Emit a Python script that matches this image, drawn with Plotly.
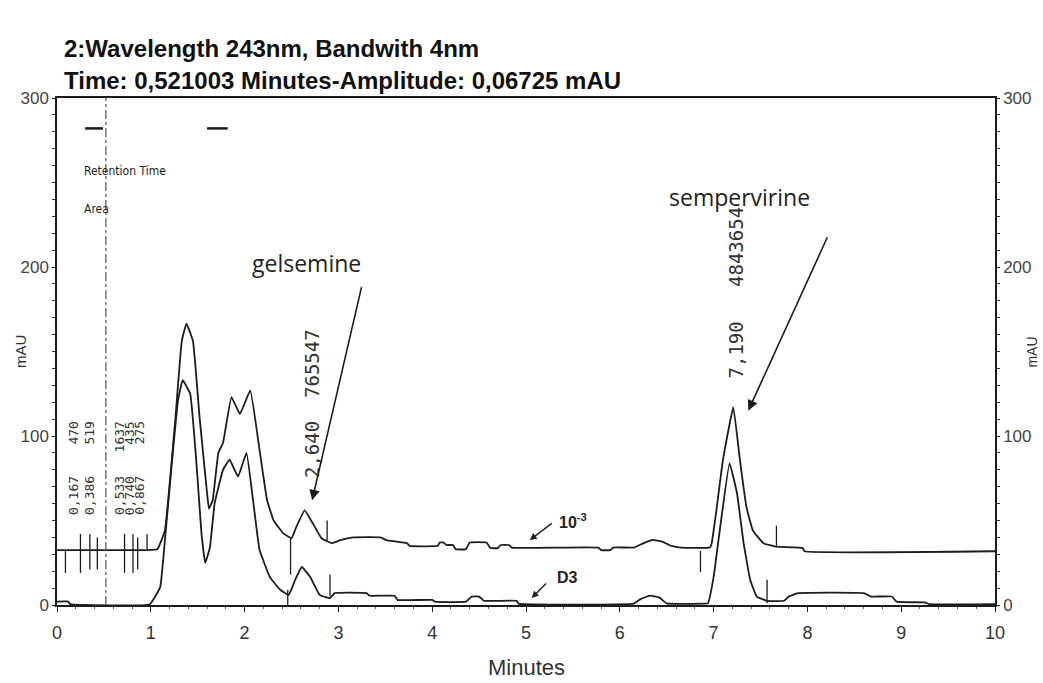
import plotly.graph_objects as go

# ---- data ----
upper_t = [0, 0.95, 1.07, 1.15, 1.26, 1.33, 1.38, 1.45, 1.52, 1.60, 1.62, 1.66, 1.72, 1.77, 1.86, 1.95,
           2.06, 2.16, 2.24, 2.31, 2.41, 2.50, 2.55, 2.64, 2.73, 2.82, 2.93, 3.02, 3.16, 3.45, 3.51, 3.73,
           3.76, 4.06, 4.08, 4.12, 4.15, 4.22, 4.25, 4.36, 4.40, 4.58, 4.62, 4.70, 4.73, 4.82, 4.85, 5.77,
           5.80, 5.90, 5.93, 6.15, 6.25, 6.35, 6.45, 6.55, 6.65, 6.96, 6.98, 7.03, 7.10, 7.21, 7.28, 7.35,
           7.42, 7.53, 7.67, 7.95, 7.97, 10.0]
upper_v = [32.5, 32.5, 33, 44, 109, 156, 166.5, 156, 111, 66, 57, 62, 90, 96, 123, 113,
           127, 91.5, 62, 50, 42.5, 39.5, 46, 56, 48, 39.5, 36.6, 38.4, 40, 40, 38.4, 36.6,
           35, 35, 37, 37, 35.5, 35.5, 33, 33, 37, 37, 33.7, 33.7, 35.5, 35.5, 34, 34,
           32.5, 32.5, 34, 34, 36.5, 38.5, 37.5, 35, 34, 34, 36.6, 56, 86, 117, 86, 58,
           44, 36.6, 34.5, 33.7, 31.8, 31.8]

lower_t = [0, 0.12, 0.14, 0.99, 1.10, 1.15, 1.22, 1.29, 1.34, 1.42, 1.49, 1.54, 1.58, 1.63, 1.68, 1.77,
           1.84, 1.93, 2.02, 2.09, 2.16, 2.27, 2.38, 2.47, 2.54, 2.61, 2.70, 2.80, 2.91, 2.96, 3.30, 3.33,
           3.60, 3.63, 4.00, 4.03, 4.36, 4.42, 4.50, 4.55, 4.90, 4.92, 6.15, 6.22, 6.32, 6.42, 6.50, 6.90,
           6.94, 7.00, 7.07, 7.17, 7.25, 7.32, 7.39, 7.46, 7.57, 7.75, 7.80, 7.90, 8.60, 8.68, 8.90, 8.95,
           9.25, 9.30, 10.0]
lower_v = [2, 2, 0.5, 0.5, 10.6, 38, 81.5, 121, 133, 125, 81.5, 42.5, 25, 34, 60, 80,
           86, 76, 90, 62, 32.5, 16.5, 9, 6, 15, 22.5, 16.5, 6, 4, 7, 7, 5.5,
           5.5, 3, 3, 2, 2, 5, 5, 2.5, 2.5, 0.8, 0.8, 3.5, 5.5, 4.5, 1, 0.8,
           1, 16.5, 46, 84, 66, 36.6, 15, 5, 2.5, 2.5, 5, 7, 7, 5, 5, 2,
           1.5, 0.5, 0.5]

# integration marks (time, low, high)
mark_t = [0.09, 0.25, 0.35, 0.43, 0.72, 0.81, 0.86, 0.96, 2.49, 2.88, 2.46, 2.91, 6.86, 7.67, 7.57]
mark_lo = [19, 19, 21, 21, 19, 19, 21, 33, 18, 38, 0, 5, 19.5, 35, 1]
mark_hi = [32, 42, 42, 40, 42, 42, 40, 42, 39.5, 50, 9, 18, 32, 47, 15]

# retention time labels
rt_text = ["0,167    470", "0,386    519", "0,533   1637", "0,740    435", "0,867    275"]
rt_x = [0.17, 0.34, 0.66, 0.77, 0.87]
rt_y = [81, 81, 81, 81, 81]

peak_text = ["2,640  765547", "7,190   4843654"]
peak_x = [2.72, 7.24]
peak_y = [119, 185]

cursor_time = 0.521
dash_x = [0.30, 0.49, None, 1.60, 1.82]
dash_y = [282, 282, None, 282, 282]

INK = "#1c1c1c"
LINE = dict(color=INK, width=1.8, shape="spline", smoothing=0.3)

fig = go.Figure()
fig.add_trace(go.Scatter(x=upper_t, y=upper_v, mode="lines", line=LINE, showlegend=False, hoverinfo="skip"))
fig.add_trace(go.Scatter(x=lower_t, y=lower_v, mode="lines", line=LINE, showlegend=False, hoverinfo="skip"))

mx, my = [], []
for t, lo, hi in zip(mark_t, mark_lo, mark_hi):
    mx += [t, t, None]
    my += [lo, hi, None]
fig.add_trace(go.Scatter(x=mx, y=my, mode="lines", line=dict(color=INK, width=1.3), showlegend=False, hoverinfo="skip"))

fig.add_trace(go.Scatter(x=[cursor_time, cursor_time], y=[0, 300], mode="lines",
                         line=dict(color="#555", width=1.2, dash="dashdot"), showlegend=False, hoverinfo="skip"))
fig.add_trace(go.Scatter(x=dash_x, y=dash_y, mode="lines", line=dict(color=INK, width=2.5), showlegend=False, hoverinfo="skip"))
# invisible trace for right axis
fig.add_trace(go.Scatter(x=[0], y=[0], yaxis="y2", mode="markers", marker=dict(opacity=0), showlegend=False, hoverinfo="skip"))

ann = []
for t, x, y in zip(rt_text, rt_x, rt_y):
    ann.append(dict(x=x, y=y, xref="x", yref="y", text=t, showarrow=False, textangle=-90,
                    font=dict(family="DejaVu Sans Mono", size=13, color="#333")))
for t, x, y in zip(peak_text, peak_x, peak_y):
    ann.append(dict(x=x, y=y, xref="x", yref="y", text=t, showarrow=False, textangle=-90,
                    font=dict(family="DejaVu Sans Mono", size=19, color="#333")))

NARROW = "DejaVu Sans Condensed, Liberation Sans Narrow, Arial Narrow, Arial"
ann += [
    dict(x=0.27, y=257, xref="x", yref="y", text="Retention Time", showarrow=False, xanchor="left",
         font=dict(family=NARROW, size=12, color="#222")),
    dict(x=0.27, y=234.5, xref="x", yref="y", text="Area", showarrow=False, xanchor="left",
         font=dict(family=NARROW, size=12, color="#222")),
    dict(x=2.66, y=202.6, xref="x", yref="y", text="gelsemine", showarrow=False,
         font=dict(family="Open Sans", size=23, color="#222")),
    dict(x=7.28, y=241.6, xref="x", yref="y", text="sempervirine", showarrow=False,
         font=dict(family="Open Sans", size=23, color="#222")),
    dict(x=2.72, y=62, ax=3.25, ay=189, xref="x", yref="y", axref="x", ayref="y", text="",
         showarrow=True, arrowhead=2, arrowsize=1.3, arrowwidth=1.6, arrowcolor=INK),
    dict(x=7.37, y=115, ax=8.22, ay=218.5, xref="x", yref="y", axref="x", ayref="y", text="",
         showarrow=True, arrowhead=2, arrowsize=1.3, arrowwidth=1.6, arrowcolor=INK),
    dict(x=5.04, y=38.4, ax=5.29, ay=49, xref="x", yref="y", axref="x", ayref="y", text="",
         showarrow=True, arrowhead=2, arrowsize=1, arrowwidth=1.4, arrowcolor=INK),
    dict(x=5.06, y=4.1, ax=5.23, ay=13.6, xref="x", yref="y", axref="x", ayref="y", text="",
         showarrow=True, arrowhead=2, arrowsize=1, arrowwidth=1.4, arrowcolor=INK),
    dict(x=5.5, y=50, xref="x", yref="y", text="<b>10<sup>-3</sup></b>", showarrow=False,
         font=dict(family="Arial", size=16, color="#222")),
    dict(x=5.44, y=16.5, xref="x", yref="y", text="<b>D3</b>", showarrow=False,
         font=dict(family="Arial", size=16, color="#222")),
    dict(x=0.0053, y=1.0986, xref="paper", yref="paper", xanchor="left", yanchor="middle", showarrow=False,
         text="<b>2:Wavelength 243nm, Bandwith 4nm</b>", font=dict(family="Arial", size=24, color="#111")),
    dict(x=0.0053, y=1.0355, xref="paper", yref="paper", xanchor="left", yanchor="middle", showarrow=False,
         text="<b>Time: 0,521003 Minutes-Amplitude: 0,06725 mAU</b>", font=dict(family="Arial", size=24, color="#111")),
    dict(x=0.5, y=-0.124, xref="paper", yref="paper", xanchor="center", yanchor="middle", showarrow=False,
         text="Minutes", font=dict(family="Arial", size=22, color="#333")),
    dict(x=-0.0394, y=0.499, xref="paper", yref="paper", xanchor="center", yanchor="middle", showarrow=False,
         text="mAU", textangle=-90, font=dict(family="Arial", size=15, color="#333")),
    dict(x=1.039, y=0.499, xref="paper", yref="paper", xanchor="center", yanchor="middle", showarrow=False,
         text="mAU", textangle=-90, font=dict(family="Arial", size=14, color="#333")),
]

fig.update_layout(
    width=1043, height=683,
    margin=dict(l=57, r=48, t=98, b=78),
    paper_bgcolor="white", plot_bgcolor="white",
    showlegend=False,
    annotations=ann,
    xaxis=dict(range=[0, 10], tickvals=list(range(11)), ticks="outside", ticklen=5, tickcolor=INK,
               showline=True, linecolor=INK, linewidth=1.5, mirror=True, showgrid=False, zeroline=False,
               ticklabelstandoff=6,
               tickfont=dict(family="Arial", size=18, color="#333"),
               minor=dict(dtick=0.2, ticks="outside", ticklen=2, tickcolor="#555")),
    yaxis=dict(range=[0, 300], tickvals=[0, 100, 200, 300], ticks="outside", ticklen=3, tickcolor=INK,
               showline=True, linecolor=INK, linewidth=1.5, showgrid=False, zeroline=False,
               tickfont=dict(family="Arial", size=17, color="#444"),
               minor=dict(dtick=10, ticks="outside", ticklen=3, tickcolor="#333")),
    yaxis2=dict(range=[0, 300], overlaying="y", side="right", tickvals=[0, 100, 200, 300], ticks="outside",
                ticklen=3, tickcolor=INK, showline=True, linecolor=INK, linewidth=1.5, showgrid=False,
                zeroline=False, tickfont=dict(family="Arial", size=17, color="#444"),
                minor=dict(dtick=10, ticks="outside", ticklen=3, tickcolor="#333")),
)

fig.write_html("out.html")
